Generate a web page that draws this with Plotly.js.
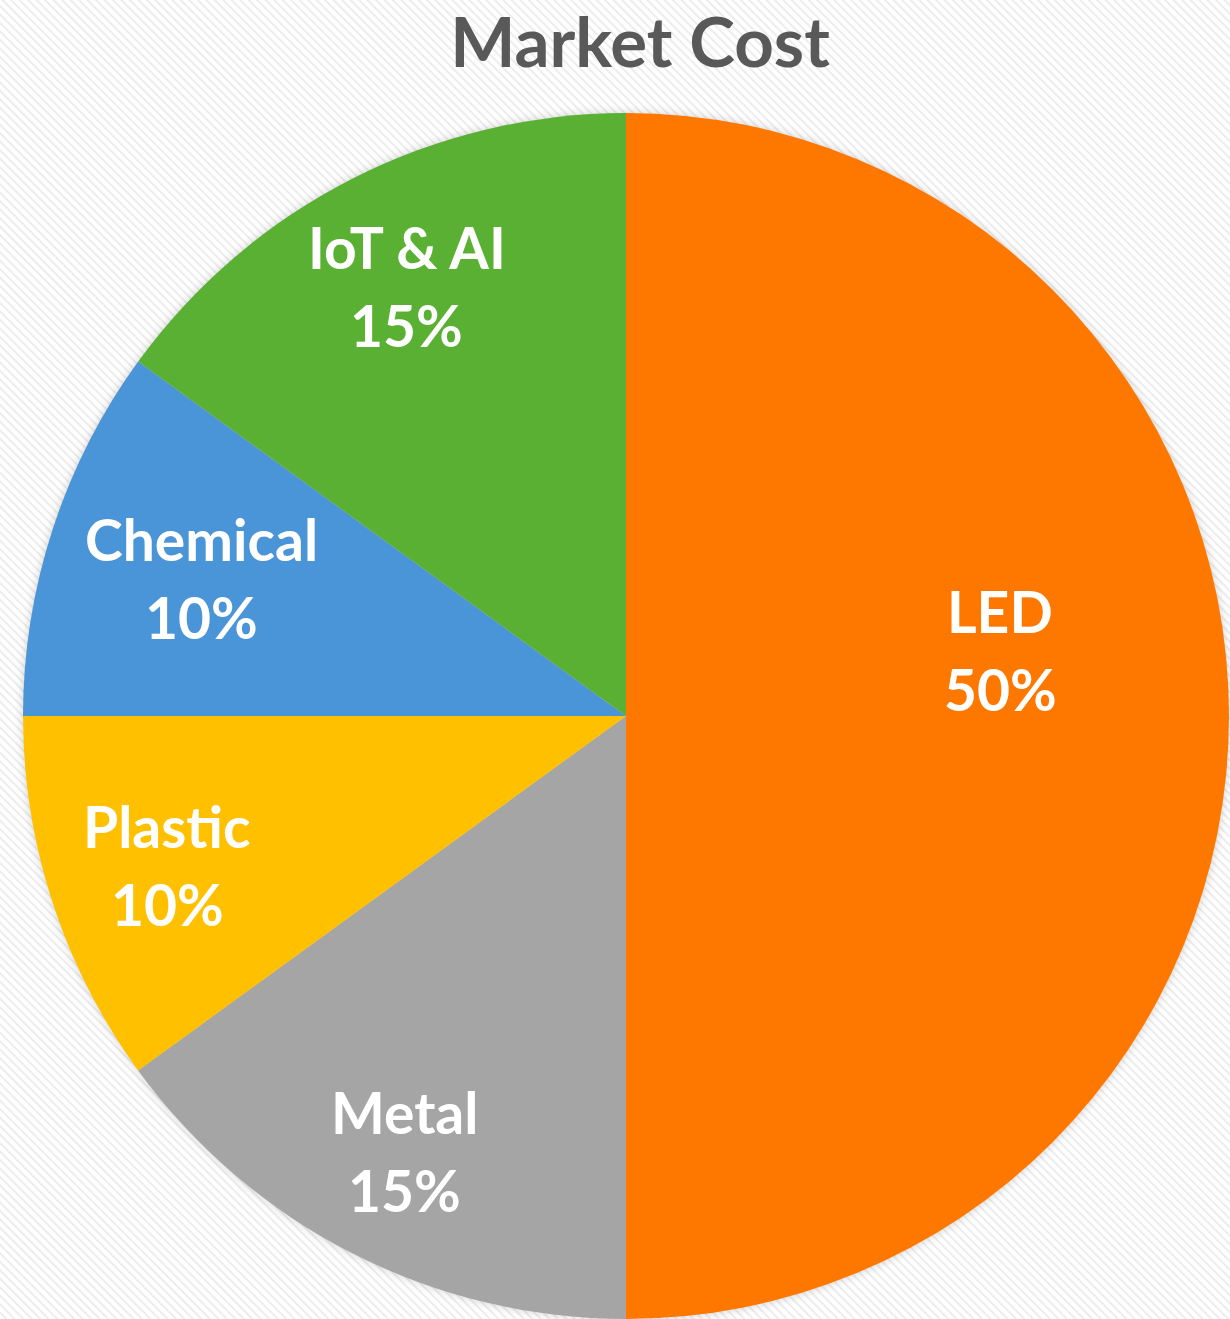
<!DOCTYPE html>
<html>
<head>
<meta charset="utf-8">
<script src="https://cdn.plot.ly/plotly-3.0.1.min.js"></script>
<style>
  html, body { margin: 0; padding: 0; }
  body {
    width: 1230px; height: 1319px; overflow: hidden;
    background: repeating-linear-gradient(45deg, #ffffff 0px, #ffffff 3px, #ededed 4px, #ededed 5px, #ffffff 6px);
  }
  #chart { width: 1230px; height: 1319px; }
  .pielayer { filter: drop-shadow(0 0 5px rgba(0,0,0,0.18)); }
</style>
</head>
<body>
<div id="chart"></div>
<script>
// ---- data ----
const categories = ["LED", "Metal", "Plastic", "Chemical", "IoT & AI"];
const values = [50, 15, 10, 10, 15];
const colors = ["#FE7800", "#A5A5A5", "#FFC000", "#4A94D8", "#5AB033"];
const chartTitle = "Market Cost";

// ---- styling / layout constants ----
const W = 1230, H = 1319;
const domX = [22 / W, 1];
const domY = [0, (H - 113) / H];
const labelRadius = [0.63, 0.81, 0.80, 0.74, 0.80];   // fraction of pie radius
const labelAngleShift = [-10, 0, 0, 0, 0];            // degrees
const labelFont = { family: "Lato, 'Open Sans', sans-serif", size: 57, color: "#ffffff" };
const lineHalfGap = 39;

const data = [{
  type: "pie",
  labels: categories,
  values: values,
  sort: false,
  direction: "clockwise",
  rotation: 0,
  marker: { colors: colors, line: { width: 0 } },
  textinfo: "none",
  hoverinfo: "none",
  domain: { x: domX, y: domY },
  showlegend: false
}];

// label positions derived from the values (slice mid-angles)
const total = values.reduce((a, b) => a + b, 0);
const cxPx = (domX[0] + domX[1]) / 2 * W;
const cyPx = H - (domY[0] + domY[1]) / 2 * H;
const Rpx = Math.min((domX[1] - domX[0]) * W, (domY[1] - domY[0]) * H) / 2;
const annotations = [];
let cum = 0;
values.forEach((v, i) => {
  const frac = v / total;
  const midDeg = (cum + frac / 2) * 360 + labelAngleShift[i];
  cum += frac;
  const th = midDeg * Math.PI / 180;
  const xPx = cxPx + labelRadius[i] * Rpx * Math.sin(th);
  const yPx = cyPx - labelRadius[i] * Rpx * Math.cos(th);
  const pct = Math.round(frac * 100) + "%";
  const base = {
    xref: "paper", yref: "paper",
    x: xPx / W, y: 1 - yPx / H,
    xanchor: "center", yanchor: "middle",
    showarrow: false, font: labelFont
  };
  annotations.push(Object.assign({}, base, { text: "<b>" + categories[i] + "</b>", yshift: lineHalfGap }));
  annotations.push(Object.assign({}, base, { text: "<b>" + pct + "</b>", yshift: -lineHalfGap }));
});

const layout = {
  width: W,
  height: H,
  margin: { l: 0, r: 0, t: 0, b: 0 },
  paper_bgcolor: "rgba(0,0,0,0)",
  plot_bgcolor: "rgba(0,0,0,0)",
  title: {
    text: "<b>" + chartTitle + "</b>",
    font: { family: "Lato, 'Open Sans', sans-serif", size: 69, color: "#595959" },
    x: 640 / W, xanchor: "center", xref: "container",
    y: 1 - 43 / H, yanchor: "middle", yref: "container"
  },
  annotations: annotations,
  showlegend: false
};

Plotly.newPlot("chart", data, layout, { displayModeBar: false, staticPlot: true });
</script>
</body>
</html>
